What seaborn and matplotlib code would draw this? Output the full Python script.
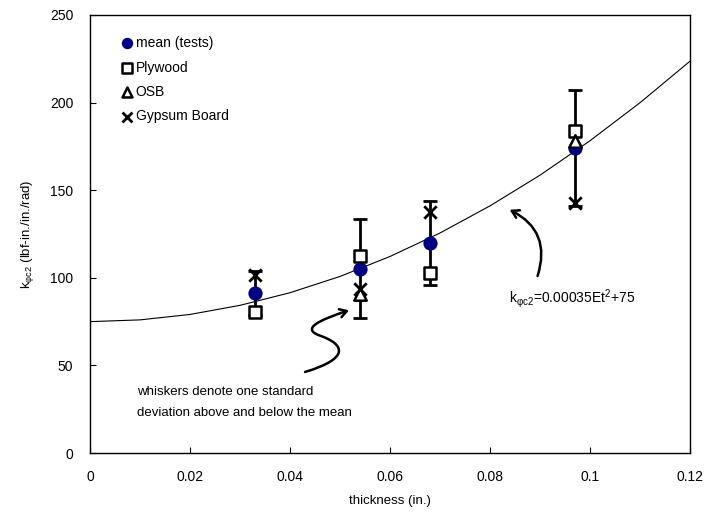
import numpy as np
import pandas as pd
import matplotlib
matplotlib.use("Agg")
import matplotlib.pyplot as plt
import seaborn as sns
from matplotlib.path import Path
from matplotlib.patches import FancyArrowPatch

# valores
espesor = [0.033, 0.054, 0.068, 0.097]
media = [91.5, 105.3, 120.0, 174.1]
desv = [12.5, 28.2, 24.0, 33.3]
plywood = [80.5, 112.5, 102.5, 183.5]
osb = [np.nan, 90.5, np.nan, 178.0]
gypsum = [101.5, 93.5, 137.5, 142.5]

# curva de diseno k = 0.00035 E t^2 + 75 (puntos cada 0.01)
t_curva = [0, 0.01, 0.02, 0.03, 0.04, 0.05, 0.06, 0.07, 0.08, 0.09, 0.10, 0.11, 0.12]
k_curva = [75.0, 76.0, 79.1, 84.3, 91.5, 100.8, 112.2, 125.6, 141.1, 158.6, 178.3, 200.0, 223.7]

datos = pd.DataFrame({"t": espesor, "media": media, "desv": desv,
                      "Plywood": plywood, "OSB": osb, "Gypsum Board": gypsum})
curva = pd.DataFrame({"t": t_curva, "k": k_curva})

sns.set_theme(style="ticks")
plt.rcParams["font.family"] = ["Liberation Sans", "DejaVu Sans"]
plt.rcParams["mathtext.fontset"] = "custom"
plt.rcParams["mathtext.rm"] = "Liberation Sans"
plt.rcParams["mathtext.it"] = "Liberation Sans:italic"
for clave in ["text.color", "axes.labelcolor", "xtick.color", "ytick.color", "axes.edgecolor"]:
    plt.rcParams[clave] = "black"

fig = plt.figure(figsize=(7.08, 5.12), dpi=100)
ax = fig.add_axes([0.127, 0.115, 0.848, 0.856])

sns.lineplot(data=curva, x="t", y="k", color="black", lw=0.8, ax=ax, zorder=1)

ax.errorbar(datos["t"], datos["media"], yerr=datos["desv"], fmt="none",
            ecolor="black", elinewidth=2, capsize=5, capthick=2, zorder=2)

sns.scatterplot(data=datos, x="t", y="media", color="#000080", marker="o",
                s=105, linewidth=0, label="mean (tests)", ax=ax, zorder=3)
sns.scatterplot(data=datos, x="t", y="Plywood", facecolor="white", edgecolor="black",
                marker="s", s=80, linewidth=1.8, label="Plywood", ax=ax, zorder=4)
sns.scatterplot(data=datos, x="t", y="OSB", facecolor="white", edgecolor="black",
                marker="^", s=80, linewidth=1.8, label="OSB", ax=ax, zorder=4)
sns.scatterplot(data=datos, x="t", y="Gypsum Board", color="black",
                marker="x", s=80, linewidth=2, label="Gypsum Board", ax=ax, zorder=5)

ax.set_xlim(0, 0.12)
ax.set_ylim(0, 250)
ax.set_xticks([0, 0.02, 0.04, 0.06, 0.08, 0.1, 0.12])
ax.set_xticklabels(["0", "0.02", "0.04", "0.06", "0.08", "0.1", "0.12"])
ax.set_yticks([0, 50, 100, 150, 200, 250])
ax.tick_params(direction="in", length=4, width=0.8, labelsize=10, pad=12, color="black")
for s in ax.spines.values():
    s.set_visible(True)
    s.set_color("black")
    s.set_linewidth(1.0)

ax.set_xlabel("thickness (in.)", fontsize=9.5, labelpad=8)
ax.set_ylabel(r"k$_{\mathregular{φc2}}$ (lbf-in./in./rad)", fontsize=9.5, labelpad=10)

leg = ax.legend(loc="upper left", frameon=False, fontsize=10, markerscale=0.8,
                handletextpad=0.1, handlelength=1.0, labelspacing=0.75,
                bbox_to_anchor=(0.03, 0.98))

# ecuacion y flecha curva
ax.text(0.0838, 88, r"k$_{\mathregular{φc2}}$=0.00035Et$^{\mathregular{2}}$+75",
        fontsize=10, va="center", ha="left")
ax.add_patch(FancyArrowPatch((0.0893, 99.5), (0.0834, 139.5),
                             connectionstyle="arc3,rad=0.45", arrowstyle="->,head_length=5,head_width=3",
                             lw=1.8, color="black", zorder=6))

# nota de los bigotes con flecha en S
ax.text(0.0095, 35, "whiskers denote one standard", fontsize=9.5, va="center")
ax.text(0.0095, 23, "deviation above and below the mean", fontsize=9.5, va="center")
verts = [(0.043, 46.3), (0.052, 54), (0.051, 62), (0.046, 67),
         (0.042, 71), (0.046, 76), (0.0518, 81.5)]
codes = [Path.MOVETO, Path.CURVE4, Path.CURVE4, Path.CURVE4,
         Path.CURVE4, Path.CURVE4, Path.CURVE4]
ax.add_patch(FancyArrowPatch(path=Path(verts, codes), arrowstyle="->,head_length=5,head_width=3",
                             lw=1.8, color="black", zorder=6))

plt.savefig("out.png", dpi=100)
